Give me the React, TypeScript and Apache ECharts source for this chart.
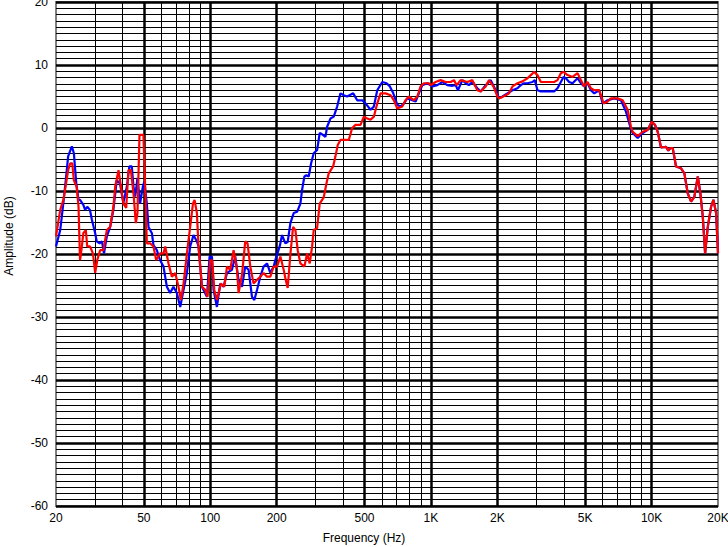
import React, { useEffect, useRef } from "react";
import * as echarts from "echarts";

// Frequency response, blue trace [Hz, dB]
const blueSeries: [number, number][] = [
  [20, -18.8], [20.9, -16.2], [21.6, -11.9], [22.2, -7.9], [22.7, -4.5], [23.6, -2.9], [24.1, -4], [24.7, -8.7],
  [25.3, -11.4], [25.7, -11.4], [26.6, -12.2], [27.1, -13], [27.7, -12.5], [28.5, -13], [29.1, -14.6], [30.1, -16.7],
  [30.6, -18], [31.5, -18.3], [32.3, -18], [33.0, -19.9], [34.0, -17.2], [35.2, -15.7], [36.4, -13], [37.7, -8.3],
  [39.0, -8.8], [40.4, -11.9], [41.9, -9.3], [43.0, -6.1], [44.1, -6.1], [44.9, -9.3], [45.7, -10.9], [46.8, -7.9],
  [48.1, -12], [49.5, -9.3], [50.3, -8.5], [51.6, -12], [52.5, -15.7], [54.4, -16.7], [55.3, -18.6], [57.3, -19.4],
  [59.3, -21], [61.4, -22], [63.6, -25.2], [65.8, -26.2], [68.1, -25.2], [70.6, -26.2], [73.1, -28.4], [75.7, -25.7],
  [78.4, -23], [81.1, -18.8], [84.0, -17], [87.0, -18], [88.5, -18.8], [91.7, -25.2], [96.6, -26.8], [99.3, -20.4],
  [101.8, -20.4], [103.5, -25.7], [107.2, -28.4], [111.0, -24.7], [114.9, -25.2], [119.1, -23], [125.4, -22.5],
  [129.8, -20.4], [134.4, -24.1], [139.3, -25.2], [144.1, -22], [149.2, -22.5], [154.6, -26.8], [158.4, -27.3],
  [162.9, -25.7], [168.6, -23.6], [174.5, -22], [180.8, -21.5], [187.2, -23], [193.7, -22], [199.4, -20.4],
  [206.4, -18.8], [211.6, -17], [219.0, -18.3], [224.4, -18.1], [230.8, -15.1], [238.9, -13.5], [247.5, -13.3],
  [256.2, -12], [260.8, -9.8], [267.1, -7.7], [272.8, -7.5], [279.4, -7.7], [286.5, -5.6], [294.4, -4], [305.0, -3.5],
  [313.4, -0.8], [321.4, -1], [332.7, -1.4], [338.6, 0.2], [350.5, 1.5], [362.8, 1.8], [375.9, 3.4], [389.1, 5.5],
  [402.8, 5.2], [417.3, 5], [444.5, 5.5], [463.5, 4.4], [488.4, 4.4], [505.5, 3.9], [532.6, 2.9], [551.3, 3.4],
  [571.3, 6], [601.9, 7.3], [629.6, 7.1], [651.7, 6.6], [675.2, 5.5], [704.1, 3.7], [728.8, 3.4], [754.3, 3.9],
  [781.6, 4.7], [823.5, 4.4], [852.4, 4.2], [882.2, 5.5], [914.2, 6.8], [963.2, 7.1], [1015, 6.6], [1069, 6.8],
  [1127, 7.3], [1187, 6.8], [1251, 6.7], [1295, 6.8], [1326, 6.0], [1388, 7.6], [1437, 7.1], [1487, 6.8], [1541, 7.3],
  [1624, 6.3], [1681, 5.8], [1771, 6.8], [1866, 7.6], [1967, 6.0], [2036, 4.7], [2109, 5], [2222, 5.5], [2342, 6.0],
  [2467, 6.3], [2554, 6.8], [2643, 7.1], [2739, 7.1], [2886, 7.3], [2956, 7.6], [3041, 6.0], [3148, 5.8], [3317, 5.8],
  [3494, 5.8], [3617, 5.8], [3748, 6.3], [3879, 7.3], [3990, 8.1], [4088, 7.9], [4231, 7.3], [4384, 7.1], [4620, 7.9],
  [4782, 7.1], [4950, 6.6], [5129, 7.1], [5309, 6.0], [5495, 5.5], [5790, 6.0], [5999, 3.9], [6321, 4.4], [6773, 4.7],
  [7264, 4.4], [7654, 2.6], [8006, 0.2], [8209, -0.8], [8650, -1.6], [9114, -0.8], [9603, -0.3], [10013, 1],
  [10364, 0.5], [10661, -0.6], [11035, -3.1], [11627, -3.0], [11910, -3.6], [12162, -3.2], [12472, -3.2],
  [12908, -6.1], [13602, -6.4], [14080, -7.2], [14590, -10.4], [15102, -11.7], [15632, -10.9], [16198, -7.7],
  [16644, -10.4], [17068, -14.1], [17484, -19.9], [17978, -15.7], [18610, -12.5], [19064, -11.4], [19606, -13.5],
  [20000, -19.9],
];

// Frequency response, red trace [Hz, dB]
const redSeries: [number, number][] = [
  [20, -17.2], [20.9, -13], [21.6, -11.4], [22.1, -9.3], [22.7, -6.7], [23.2, -5.6], [23.7, -5.6], [24.1, -8.3],
  [24.8, -9.3], [25.3, -12.5], [25.7, -21], [26.2, -18.8], [26.6, -16.7], [27.3, -16.2], [27.7, -18.8], [28.5, -18.8],
  [29.4, -19.9], [30.1, -23], [30.8, -20.9], [31.7, -19.4], [32.8, -19.4], [34.0, -16.2], [35.2, -15.7], [36.4, -12.5],
  [37.1, -9.3], [38.4, -6.7], [39.0, -8.3], [40.4, -12], [41.6, -12.7], [42.6, -6.7], [43.7, -6.7], [44.9, -10.4],
  [46.0, -15.1], [46.8, -13.5], [47.8, -1.1], [49.8, -1.1], [50.7, -9.3], [51.6, -18.3], [53.4, -18.3], [55.3, -18.8],
  [56.9, -21], [59.3, -19.9], [61.4, -19.9], [62.5, -18.8], [64.7, -21.5], [67.0, -23.6], [69.4, -23], [71.8, -25.2],
  [73.6, -27.3], [75.7, -24.7], [78.4, -19.9], [81.1, -15.7], [83.5, -12], [84.9, -11.4], [87.0, -13.5], [88.5, -18.8],
  [91.7, -25.2], [94.9, -25.7], [97.2, -26.8], [100, -21], [102.1, -21], [104.3, -25.7], [107.2, -27.3], [111.8, -24.7],
  [115.8, -25.2], [119.1, -22], [123.2, -22.5], [127.6, -19.4], [132.2, -22.5], [134.4, -26.2], [139.3, -23.3],
  [144.1, -18], [147.6, -18.3], [151.9, -22], [157.2, -24.7], [162.9, -24.1], [168.6, -23.6], [174.5, -23],
  [180.8, -23.6], [187.2, -23.6], [193.7, -22], [200.8, -22], [207.9, -20.4], [215.2, -22.5], [219.7, -24.1],
  [224.4, -25.4], [230.8, -20], [237.4, -15.7], [243.2, -16.2], [249.1, -19.4], [256.2, -21.5], [267.1, -22],
  [274.8, -19.9], [282.4, -21.5], [289.5, -18.8], [294.4, -16.2], [305.0, -15.9], [313.4, -12], [326.8, -11],
  [336.2, -8.8], [344.3, -7.2], [360.5, -6.1], [369.3, -4.5], [378.3, -2.7], [389.1, -1.9], [402.8, -1.9], [424.4, -1.9],
  [439.9, 0], [455.4, 0.5], [479.8, 0.5], [496.6, 1.8], [514.6, 1.5], [532.6, 1.3], [551.3, 1.8], [571.3, 3.9],
  [591.3, 5.5], [623.0, 5.5], [656.5, 5.2], [679.5, 4.4], [704.1, 3.1], [741.8, 3.4], [767.8, 4.4], [794.8, 5],
  [837.5, 4.4], [867.6, 5], [898.1, 6.6], [929.6, 7.1], [979.4, 7.1], [997, 6.8], [1050, 7.3], [1107, 7.6], [1166, 7.3],
  [1229, 7.3], [1272, 7.6], [1308, 6.8], [1364, 7.6], [1463, 7.3], [1541, 7.6], [1624, 6.0], [1681, 5.8], [1771, 6.6],
  [1833, 7.6], [1920, 6.6], [2002, 5], [2036, 4.7], [2184, 5.2], [2260, 5.5], [2342, 6.6], [2467, 7.1], [2600, 7.4],
  [2739, 7.9], [2835, 8.4], [2935, 8.9], [3041, 8.4], [3148, 7.3], [3317, 7.3], [3617, 7.3], [3748, 7.6], [3879, 8.7],
  [3990, 8.9], [4160, 8.4], [4384, 8.1], [4620, 8.7], [4782, 7.6], [4950, 6.6], [5129, 7.3], [5309, 6.3], [5495, 6.0],
  [5790, 6.0], [6062, 3.9], [6321, 4.2], [6544, 4.7], [7018, 4.7], [7394, 4.4], [7792, 2.9], [8064, 0.2], [8209, -0.6],
  [8650, -1.3], [9114, -0.6], [9603, -0.3], [10013, 1], [10364, 0.5], [10661, -0.6], [11035, -3.1], [11627, -3.0],
  [11910, -3.6], [12162, -3.2], [12472, -3.2], [12908, -6.1], [13602, -6.4], [14080, -7.2], [14590, -10.4],
  [15102, -11.7], [15632, -10.9], [16198, -7.7], [16644, -10.4], [17068, -14.1], [17484, -19.9], [17978, -15.7],
  [18610, -12.5], [19064, -11.4], [19606, -13.5], [20000, -19.9],
];

// Frequency grid lines and tick labels
const majorFreqs = [50, 100, 200, 500, 1000, 2000, 5000, 10000];
const minorFreqs = [30, 40, 60, 70, 80, 90, 300, 400, 600, 700, 800, 900, 3000, 4000, 6000, 7000, 8000, 9000];
const freqLabels: [number, string][] = [
  [20, "20"], [50, "50"], [100, "100"], [200, "200"], [500, "500"], [1000, "1K"],
  [2000, "2K"], [5000, "5K"], [10000, "10K"], [20000, "20K"],
];

const FONT = "Arial, 'Liberation Sans', sans-serif";

export default function App() {
  const ref = useRef<HTMLDivElement>(null);
  useEffect(() => {
    if (!ref.current) return;
    const chart = echarts.init(ref.current, undefined, { renderer: "svg" });

    const gridLines: any[] = [
      ...minorFreqs.map((f) => ({ xAxis: f, lineStyle: { color: "#000", width: 1, type: "solid" } })),
      ...majorFreqs.map((f) => ({ xAxis: f, lineStyle: { color: "#000", width: 2.5, type: "solid" } })),
    ];

    const titles: any[] = [
      {
        id: "xtitle",
        type: "text",
        x: 364,
        y: 538,
        style: { text: "Frequency (Hz)", fill: "#000", font: `12px ${FONT}`, align: "center", verticalAlign: "middle" },
      },
      {
        id: "ytitle",
        type: "text",
        x: 9,
        y: 236,
        rotation: Math.PI / 2,
        style: { text: "Amplitude (dB)", fill: "#000", font: `12px ${FONT}`, align: "center", verticalAlign: "middle" },
      },
    ];

    chart.setOption({
      animation: false,
      backgroundColor: "#fff",
      grid: {
        left: 56,
        right: 10,
        top: 2,
        bottom: 41,
        containLabel: false,
        outerBoundsMode: "none",
        show: true,
        borderColor: "#808080",
        borderWidth: 2,
        backgroundColor: "#fff",
      },
      xAxis: {
        type: "log",
        logBase: 10,
        min: 20,
        max: 20000,
        axisLine: { show: false },
        axisTick: { show: false },
        axisLabel: { show: false },
        splitLine: { show: false },
      },
      yAxis: {
        type: "value",
        min: -60,
        max: 20,
        interval: 10,
        axisLine: { show: false },
        axisTick: { show: false },
        axisLabel: { color: "#000", fontSize: 12, fontFamily: FONT, margin: 8 },
        splitLine: { show: true, lineStyle: { color: "#000", width: 2.5 } },
        minorTick: { show: false, splitNumber: 10 },
        minorSplitLine: { show: true, lineStyle: { color: "#000", width: 1 } },
      },
      graphic: titles,
      series: [
        {
          name: "grid",
          type: "line",
          data: [],
          silent: true,
          markLine: { silent: true, symbol: ["none", "none"], z: 1, animation: false, label: { show: false }, data: gridLines },
        },
        {
          name: "Blue",
          type: "line",
          data: blueSeries,
          showSymbol: false,
          symbol: "none",
          z: 3,
          lineStyle: { color: "#0000ff", width: 2.2 },
          itemStyle: { color: "#0000ff" },
        },
        {
          name: "Red",
          type: "line",
          data: redSeries,
          showSymbol: false,
          symbol: "none",
          z: 4,
          lineStyle: { color: "#ff0000", width: 2.2 },
          itemStyle: { color: "#ff0000" },
        },
      ],
    });

    // X tick labels positioned through the axis scale
    const yBottom = chart.convertToPixel({ yAxisIndex: 0 }, -60) as number;
    const labelEls = freqLabels.map(([f, t], i) => ({
      id: "xl" + i,
      type: "text",
      x: chart.convertToPixel({ xAxisIndex: 0 }, f) as number,
      y: yBottom + 12,
      style: { text: t, fill: "#000", font: `12px ${FONT}`, align: "center", verticalAlign: "middle" },
    }));
    chart.setOption({ graphic: [...titles, ...labelEls] });

    return () => chart.dispose();
  }, []);

  return (
    <div
      ref={ref}
      style={{ position: "fixed", left: 0, top: 0, width: 728, height: 547, background: "#fff" }}
    />
  );
}
